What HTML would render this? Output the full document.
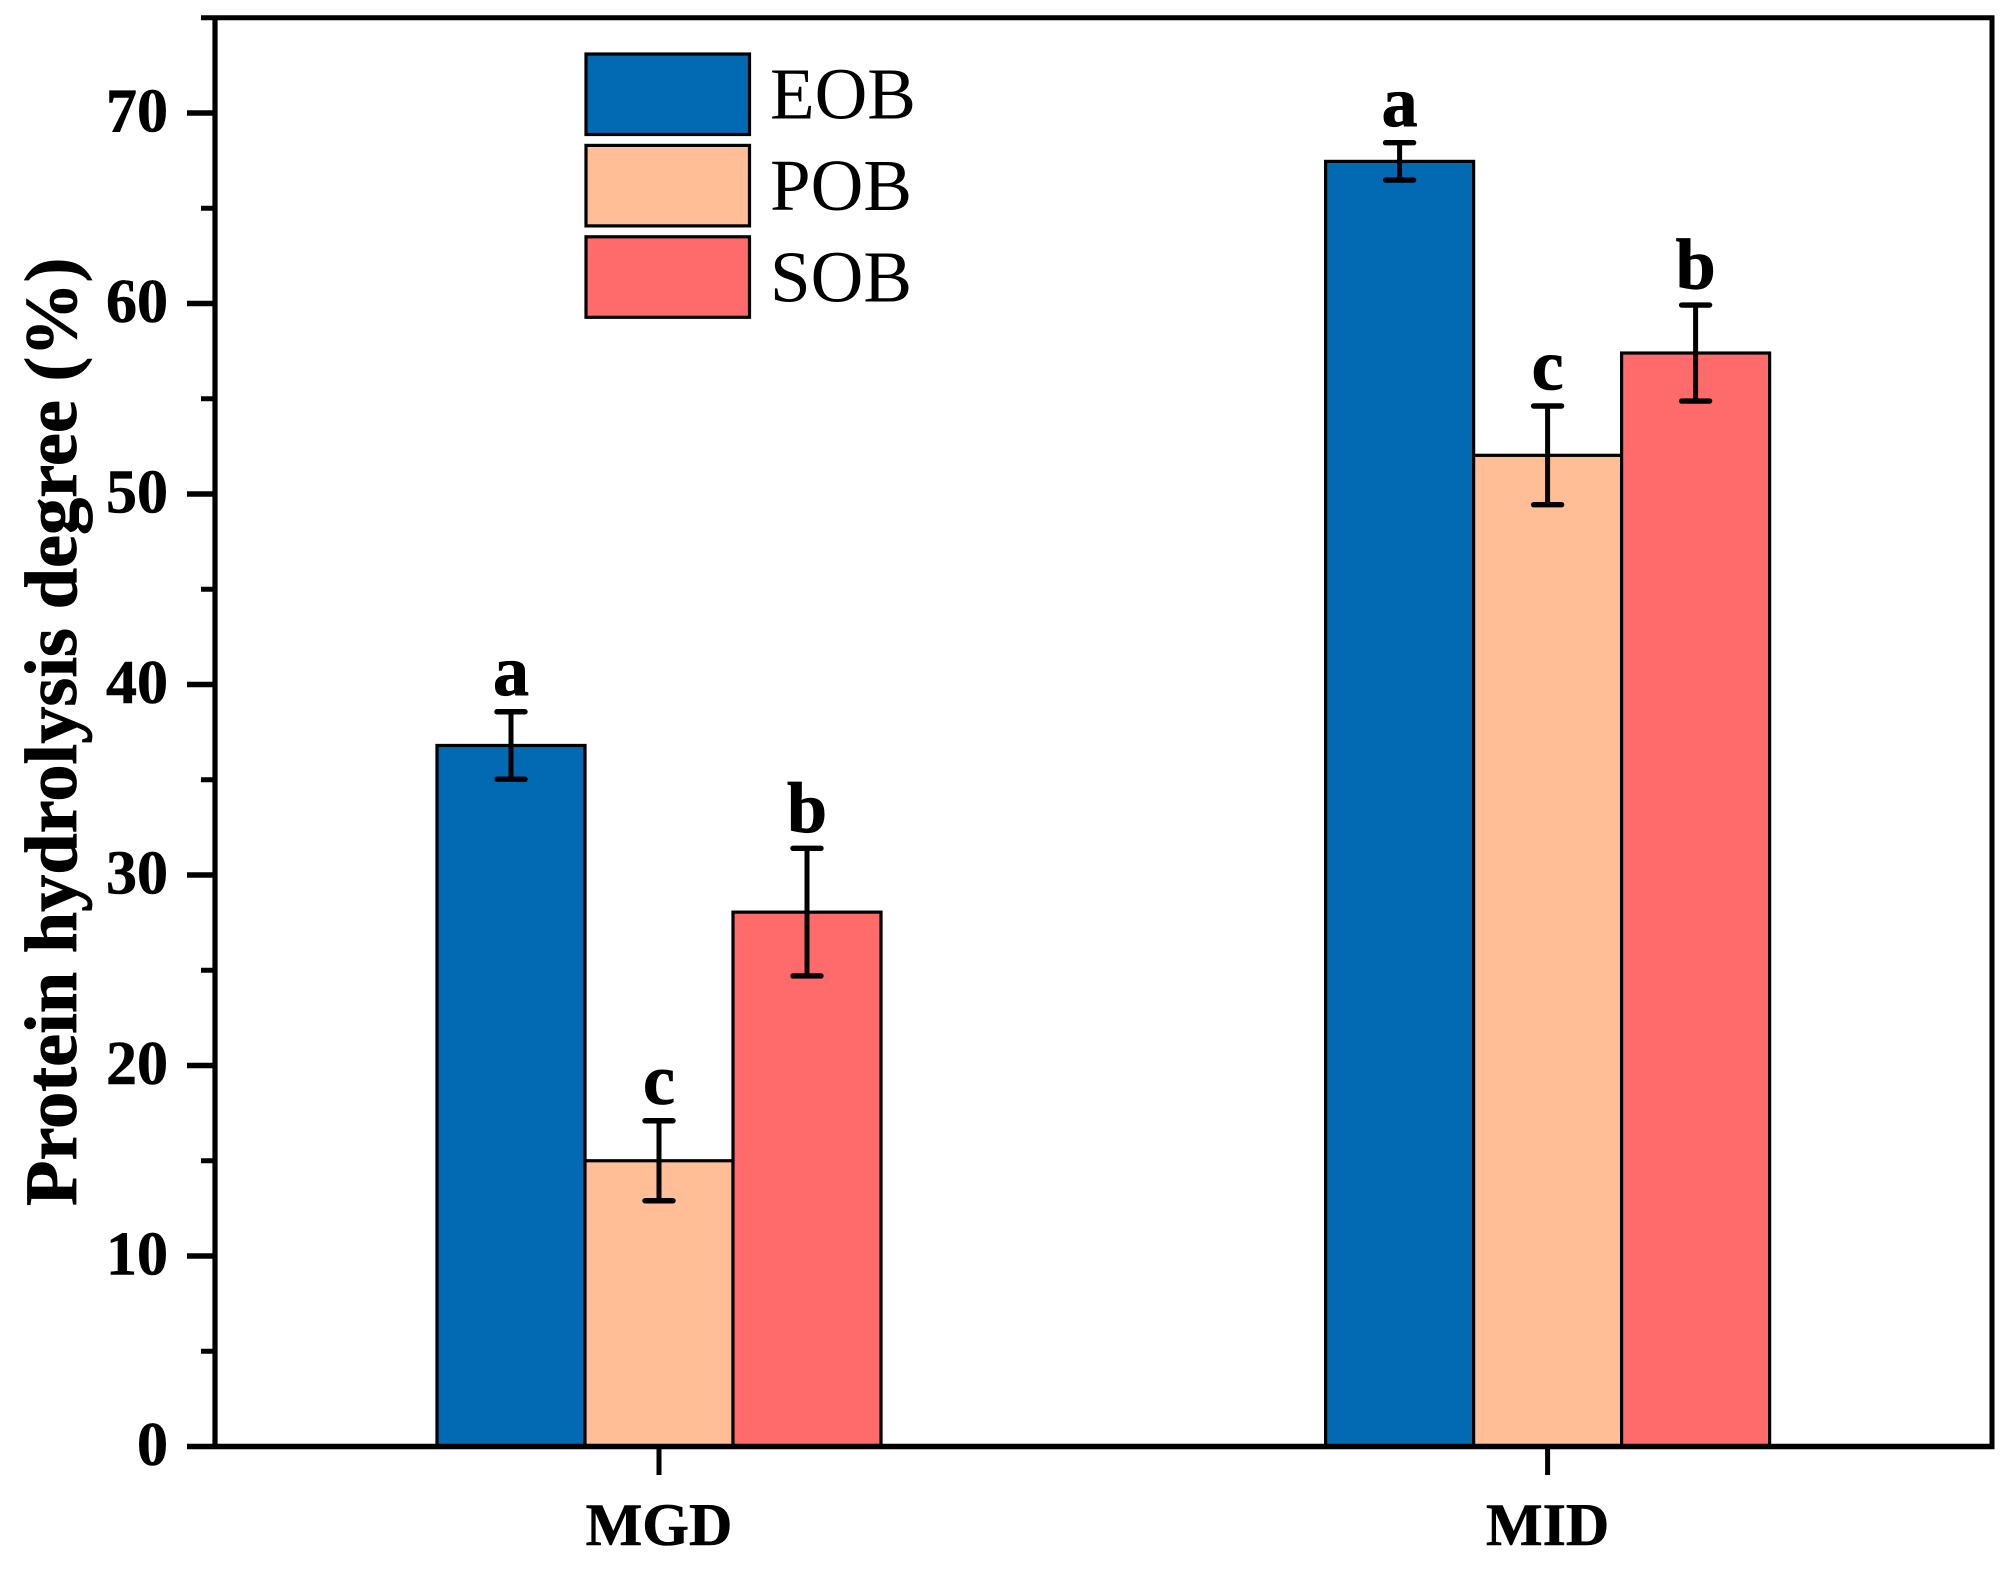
<!DOCTYPE html>
<html lang="en">
<head>
<meta charset="utf-8">
<title>Protein hydrolysis degree</title>
<style>
html,body{margin:0;padding:0;background:#fff;}
svg{display:block;font-family:"Liberation Serif","Times New Roman",serif;}
</style>
</head>
<body>
<svg id="chart" width="2011" height="1569" viewBox="0 0 2011 1569" xmlns="http://www.w3.org/2000/svg">
  <rect x="0" y="0" width="2011" height="1569" fill="#ffffff"/>
  <text transform="translate(76,1206) rotate(-90)" font-size="74.4" font-weight="bold" fill="#000" stroke="#000" stroke-width="0.8">Protein hydrolysis degree (%)</text>
</svg>
<script>
const categories = ['MGD', 'MID'];
const seriesNames = ['EOB', 'POB', 'SOB'];
const seriesColors = ['#016ab2', '#ffbe96', '#ff6b6b'];
const eobValues = [36.8, 67.46];
const pobValues = [15.0, 52.03];
const sobValues = [28.05, 57.4];
const eobErrors = [1.77, 0.98];
const pobErrors = [2.1, 2.59];
const sobErrors = [3.35, 2.52];
const eobLetters = ['a', 'a'];
const pobLetters = ['c', 'c'];
const sobLetters = ['b', 'b'];
const majorTicks = [0, 10, 20, 30, 40, 50, 60, 70];
const minorTicks = [5, 15, 25, 35, 45, 55, 65, 75];

const svg = document.getElementById('chart');
const NS = 'http://www.w3.org/2000/svg';
const plotLeft = 215, plotRight = 1992, plotBottom = 1446.5, unitHeight = 19.05;
const firstGroup = 659, groupGap = 888.6, barWidth = 148;

function yScale(v) { return plotBottom - v * unitHeight; }
function xScale(catIndex, seriesIndex) { return firstGroup + catIndex * groupGap + (seriesIndex - 1) * barWidth; }
function make(tag, attrs, text) {
  const el = document.createElementNS(NS, tag);
  for (const k in attrs) el.setAttribute(k, attrs[k]);
  if (text !== undefined) el.textContent = text;
  svg.appendChild(el);
  return el;
}

const allValues = [eobValues, pobValues, sobValues];
const allErrors = [eobErrors, pobErrors, sobErrors];
const allLetters = [eobLetters, pobLetters, sobLetters];

// Bars
categories.forEach((cat, c) => {
  seriesNames.forEach((name, s) => {
    const v = allValues[s][c];
    const cx = xScale(c, s);
    const bar = make('rect', {
      x: cx - barWidth / 2, y: yScale(v), width: barWidth, height: yScale(0) - yScale(v),
      fill: seriesColors[s], stroke: '#000', 'stroke-width': 3.2
    });
    
    
  });
});

// Error bars and significance letters
categories.forEach((cat, c) => {
  seriesNames.forEach((name, s) => {
    const v = allValues[s][c], e = allErrors[s][c];
    const cx = xScale(c, s);
    const hi = yScale(v + e), lo = yScale(v - e);
    const stem = make('line', { x1: cx, x2: cx, y1: hi, y2: lo, stroke: '#000', 'stroke-width': 5 });
    
    
    [hi, lo].forEach((yy) => {
      const cap = make('line', { x1: cx - 14, x2: cx + 14, y1: yy, y2: yy, stroke: '#000', 'stroke-width': 5.4, 'stroke-linecap': 'round' });
      
      
    });
    const letter = make('text', {
      x: cx, y: hi - 16.5, 'font-size': 72, 'font-weight': 'bold', 'text-anchor': 'middle', fill: '#000', stroke: '#000', 'stroke-width': 0.8
    }, allLetters[s][c]);
    
    
  });
});

// Axes frame
const axisLeft = make('line', { x1: plotLeft, x2: plotLeft, y1: yScale(75), y2: yScale(0), stroke: '#000', 'stroke-width': 5.2 });


const axisRight = make('line', { x1: plotRight, x2: plotRight, y1: yScale(75), y2: yScale(0), stroke: '#000', 'stroke-width': 5 });


const axisTop = make('line', { x1: plotLeft, x2: plotRight + 2.5, y1: yScale(75), y2: yScale(75), stroke: '#000', 'stroke-width': 5 });


const axisBottom = make('line', { x1: plotLeft, x2: plotRight + 2.5, y1: yScale(0), y2: yScale(0), stroke: '#000', 'stroke-width': 5.6 });



// Y ticks
majorTicks.forEach((t) => {
  const tick = make('line', { x1: 187, x2: plotLeft, y1: yScale(t), y2: yScale(t), stroke: '#000', 'stroke-width': 5.4 });
  
  
  const label = make('text', {
    x: 168, y: yScale(t) + 18.5, 'font-size': 62, 'font-weight': 'bold', 'text-anchor': 'end', fill: '#000', stroke: '#000', 'stroke-width': 0.6
  }, String(t));
  
  
});
minorTicks.forEach((t) => {
  const tick = make('line', { x1: 201, x2: plotLeft, y1: yScale(t), y2: yScale(t), stroke: '#000', 'stroke-width': 5 });
  
  
});

// X ticks
categories.forEach((cat, c) => {
  const cx = xScale(c, 1);
  const tick = make('line', { x1: cx, x2: cx, y1: yScale(0), y2: 1475, stroke: '#000', 'stroke-width': 5 });
  
  
  const label = make('text', {
    x: cx, y: 1545, 'font-size': 60, 'font-weight': 'bold', 'text-anchor': 'middle', fill: '#000', stroke: '#000', 'stroke-width': 0.6
  }, cat);
  
  
});

// Legend
seriesNames.forEach((name, s) => {
  const top = 54 + s * 91.4;
  const swatch = make('rect', { x: 586, y: top, width: 163.5, height: 80.5, fill: seriesColors[s], stroke: '#000', 'stroke-width': 3.2 });
  
  
  const label = make('text', { x: 770, y: top + 64.5, 'font-size': 73, fill: '#000' }, name);
  
  
});
</script>
</body>
</html>
